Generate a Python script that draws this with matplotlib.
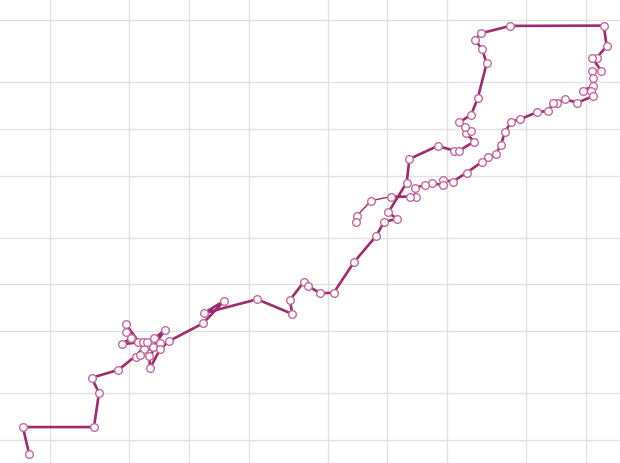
import numpy as np
import matplotlib
matplotlib.use("Agg")
import matplotlib.pyplot as plt
from matplotlib.ticker import LogLocator, NullFormatter

# values (log-log axes, no labels shown)
x_vals = [1.57, 1.46, 3.33, 3.53, 3.24, 4.42, 5.95, 4.81, 4.81, 5.11,
          4.62, 5.57, 5.90, 6.18, 5.40, 5.68, 6.62, 7.59, 6.70, 7.16,
          6.32, 6.38, 7.16, 7.98, 11.8, 15.1, 11.9, 22.1, 33.2, 32.3,
          38.0, 39.7, 45.9, 53.7, 67.9, 87.6, 96.5, 112, 101, 125,
          129, 179, 217, 230, 273, 249, 264, 246, 230, 264,
          285, 316, 300, 276, 296, 416, 1228, 1271, 1132, 1076,
          1194, 1076, 1084, 1088, 966, 1060, 1088, 904, 781, 712,
          684, 646, 568, 465, 419, 391, 372, 352, 320, 300,
          251, 213, 191, 190, 168, 155, 138, 139, 130, 104,
          82.7, 70.1, 69.5]
y_vals = [0.0812, 0.121, 0.121, 0.201, 0.251, 0.282, 0.383, 0.556, 0.492, 0.454,
          0.412, 0.424, 0.428, 0.424, 0.343, 0.352, 0.397, 0.509, 0.450, 0.418,
          0.348, 0.289, 0.383, 0.433, 0.562, 0.785, 0.652, 0.802, 0.645, 0.793,
          1.04, 0.980, 0.876, 0.884, 1.39, 2.04, 2.53, 2.63, 2.90, 4.50,
          6.39, 7.75, 7.23, 7.23, 8.26, 9.39, 9.67, 10.3, 11.0, 12.3,
          15.7, 26.3, 32.4, 37.2, 41.1, 45.8, 46.0, 34.0, 28.6, 28.6,
          23.4, 23.5, 21.1, 18.8, 17.6, 17.5, 16.2, 14.7, 15.5, 14.7,
          14.7, 13.0, 12.8, 11.5, 11.1, 9.49, 7.87, 6.88, 6.56, 6.14,
          5.22, 4.57, 4.68, 4.35, 4.46, 4.35, 4.18, 3.66, 3.66, 3.66,
          3.45, 2.75, 2.53]

line_col = "#9e2b6f"
edge_col = "#c4689e"

fig = plt.figure(figsize=(6.2, 4.63), dpi=100)
ax = fig.add_axes([0, 0, 1, 1])
ax.set_xscale("log")
ax.set_yscale("log")
ax.set_xlim(1.12, 1483)
ax.set_ylim(0.0711, 67.2)

for s in ax.spines.values():
    s.set_visible(False)
ax.xaxis.set_major_locator(LogLocator(base=10, subs=(1, 2, 5)))
ax.yaxis.set_major_locator(LogLocator(base=10, subs=(1, 2, 5)))
ax.xaxis.set_minor_locator(LogLocator(base=10, subs=()))
ax.yaxis.set_minor_locator(LogLocator(base=10, subs=()))
ax.xaxis.set_major_formatter(NullFormatter())
ax.yaxis.set_major_formatter(NullFormatter())
ax.tick_params(length=0)
ax.grid(True, color="#e2e2e2", lw=1)
ax.set_axisbelow(True)

# main path, then the thinner tail
ax.plot(x_vals[:90], y_vals[:90], color=line_col, lw=1.9, zorder=2)
ax.plot(x_vals[89:], y_vals[89:], color=line_col, lw=1.0, zorder=2)
ax.plot(x_vals, y_vals, ls="none", marker="o", ms=5.5, mfc="white",
        mec=edge_col, mew=1, zorder=3)

fig.savefig("out.png", dpi=100)
